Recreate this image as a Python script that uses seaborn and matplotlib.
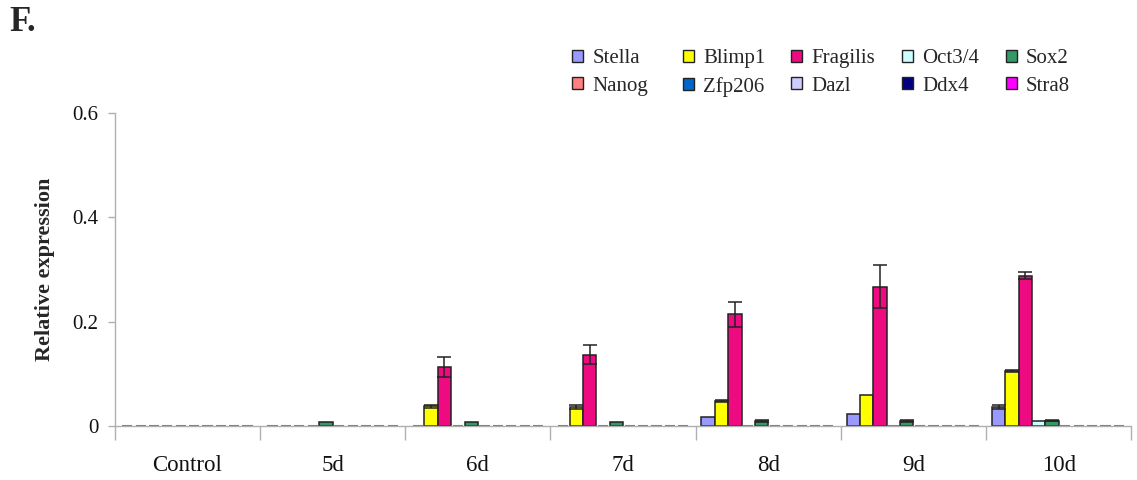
import numpy as np
import pandas as pd
import matplotlib
matplotlib.use("Agg")
import matplotlib.pyplot as plt
from matplotlib.patches import Patch
from matplotlib.ticker import FixedLocator
import seaborn as sns

# ---- data ----
days = ["Control", "5d", "6d", "7d", "8d", "9d", "10d"]
genes = ["Stella", "Blimp1", "Fragilis", "Oct3/4", "Sox2",
         "Nanog", "Zfp206", "Dazl", "Ddx4", "Stra8"]

stella = [0, 0, 0, 0, 0.017, 0.023, 0.037]
blimp1 = [0, 0, 0.038, 0.037, 0.048, 0.060, 0.105]
fragilis = [0, 0, 0.113, 0.137, 0.214, 0.267, 0.288]
oct34 = [0, 0, 0, 0, 0, 0, 0.009]
sox2 = [0, 0.007, 0.007, 0.007, 0.009, 0.009, 0.010]
nanog = [0, 0, 0, 0, 0, 0, 0]
zfp206 = [0, 0, 0, 0, 0, 0, 0]
dazl = [0, 0, 0, 0, 0, 0, 0]
ddx4 = [0, 0, 0, 0, 0, 0, 0]
stra8 = [0, 0, 0, 0, 0, 0, 0]

stella_err = [0, 0, 0, 0, 0, 0, 0.004]
blimp1_err = [0, 0, 0.003, 0.004, 0.002, 0, 0.002]
fragilis_err = [0, 0, 0.020, 0.019, 0.024, 0.041, 0.007]
sox2_err = [0, 0, 0, 0, 0.002, 0.002, 0.001]
zeros = [0] * 7

values = [stella, blimp1, fragilis, oct34, sox2, nanog, zfp206, dazl, ddx4, stra8]
errors = [stella_err, blimp1_err, fragilis_err, zeros, sox2_err,
          zeros, zeros, zeros, zeros, zeros]

colors = ["#9999ff", "#ffff00", "#ee0a80", "#ccffff", "#339966",
          "#ff8080", "#0066cc", "#ccccff", "#000080", "#ff00ff"]

df = pd.DataFrame({
    "day": np.tile(days, len(genes)),
    "gene": np.repeat(genes, len(days)),
    "value": np.concatenate(values),
})

# ---- style ----
sns.set_style("white")
plt.rcParams["font.family"] = ["Liberation Serif", "DejaVu Serif"]

fig = plt.figure(figsize=(11.37, 4.8), dpi=100)
ax = fig.add_axes([0.101, 0.1125, 0.894, 0.652])

sns.barplot(data=df, x="day", y="value", hue="gene", order=days,
            hue_order=genes, palette=colors, errorbar=None, width=0.92,
            edgecolor="#222222", linewidth=1.1, saturation=1, legend=False,
            ax=ax)

# error bars and flat outlines for empty bars
for cont, err in zip(ax.containers, errors):
    for bar, e in zip(cont, err):
        h = bar.get_height()
        if h == 0:
            w = bar.get_width()
            bar.set_x(bar.get_x() + w * 0.12)
            bar.set_width(w * 0.76)
            bar.set_edgecolor("#7a7a7a")
            bar.set_linewidth(1.5)
        if e > 0:
            cx = bar.get_x() + bar.get_width() / 2
            ax.errorbar(cx, h, yerr=e, fmt="none", ecolor="#222222",
                        elinewidth=1.1, capsize=5, capthick=1.1, zorder=5)

ax.set_xlim(-0.5, len(days) - 0.5)
ax.set_ylim(0, 0.6)
ax.set_yticks([0, 0.2, 0.4, 0.6])
ax.set_yticklabels(["0", "0.2", "0.4", "0.6"])

for s in ["top", "right"]:
    ax.spines[s].set_visible(False)
for s in ["left", "bottom"]:
    ax.spines[s].set_color("#b0b0b0")
    ax.spines[s].set_linewidth(1.0)

ax.xaxis.set_minor_locator(FixedLocator(np.arange(-0.5, len(days), 1.0)))
ax.tick_params(axis="x", which="major", length=0, pad=21, labelsize=16.5,
               colors="#111111")
ax.tick_params(axis="x", which="minor", length=10, direction="out",
               color="#b0b0b0", width=1.0, bottom=True)
ax.tick_params(axis="y", which="major", length=5, direction="out",
               color="#b0b0b0", width=1.0, pad=7, labelsize=15, left=True,
               labelcolor="#111111")

ax.set_xlabel("")
ax.set_ylabel("Relative expression", fontsize=16, fontweight="bold",
              labelpad=12)

# legend: five equal-width columns, two rows each
col_x = [0.5035, 0.601, 0.696, 0.7935, 0.885]
for c, xpos in enumerate(col_x):
    pair = [c, c + 5]
    handles = [Patch(facecolor=colors[i], edgecolor="#222222", linewidth=1.0,
                     label=genes[i]) for i in pair]
    fig.legend(handles=handles, loc="upper left", bbox_to_anchor=(xpos, 0.897),
               ncol=1, frameon=False, fontsize=15, handlelength=0.5,
               handleheight=0.5, handletextpad=0.45, labelspacing=0.4,
               borderpad=0, borderaxespad=0)

fig.text(0.008, 0.935, "F.", fontsize=25, fontweight="bold", ha="left",
         va="baseline")

fig.savefig("out.png", dpi=100)
